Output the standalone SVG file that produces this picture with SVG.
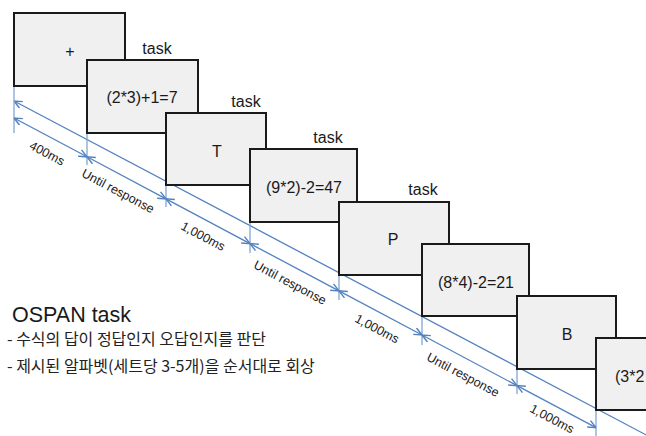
<svg xmlns="http://www.w3.org/2000/svg" width="646" height="436" viewBox="0 0 646 436">
<style>
.box{fill:#f0f0f0;stroke:#1a1a1a;stroke-width:2}
.lbl{font-family:"Liberation Sans",Arial,sans-serif;font-size:16px;fill:#1a1a1a;text-anchor:middle}
.task{font-family:"Liberation Sans",Arial,sans-serif;font-size:16px;fill:#1a1a1a;text-anchor:middle}
.dur{font-family:"Liberation Sans",Arial,sans-serif;font-size:12.5px;fill:#1a1a1a;text-anchor:middle}
.ln{stroke:#5382bf;stroke-width:1.3;fill:none}
.tick{stroke:#7fa6d6;stroke-width:1.3;fill:none}
.seg{stroke:#5382bf;stroke-width:1.3;fill:none;marker-start:url(#ah);marker-end:url(#ah)}
.kr{font-family:"Noto Sans CJK KR",sans-serif;font-size:16px;fill:#222}
</style>
<defs>
<marker id="ah" viewBox="0 0 10 10" refX="10" refY="5" markerWidth="9" markerHeight="9" markerUnits="userSpaceOnUse" orient="auto-start-reverse">
<path d="M1,1 L10,5 L1,9" fill="none" stroke="#5382bf" stroke-width="1.6"/>
</marker>
</defs>
<rect width="646" height="436" fill="#ffffff"/>
<g id="connectors">
<line class="ln" x1="14" y1="101" x2="650" y2="437" marker-start="url(#ah)"/>
<line class="tick" x1="14" y1="86" x2="14" y2="133"/>
<line class="tick" x1="87" y1="133" x2="87" y2="165"/>
<line class="tick" x1="166" y1="185" x2="166" y2="207"/>
<line class="tick" x1="250" y1="222" x2="250" y2="253"/>
<line class="tick" x1="339" y1="275" x2="339" y2="300"/>
<line class="tick" x1="422" y1="316" x2="422" y2="345"/>
<line class="tick" x1="517" y1="369" x2="517" y2="394"/>
<line class="tick" x1="596" y1="410" x2="596" y2="436"/>
<line class="seg" x1="14" y1="118" x2="87" y2="156.8"/>
<line class="seg" x1="87" y1="156.8" x2="166" y2="198.9"/>
<line class="seg" x1="166" y1="198.9" x2="250" y2="243.6"/>
<line class="seg" x1="250" y1="243.6" x2="339" y2="290.9"/>
<line class="seg" x1="339" y1="290.9" x2="422" y2="335"/>
<line class="seg" x1="422" y1="335" x2="517" y2="385.6"/>
<line class="seg" x1="517" y1="385.6" x2="596" y2="427.6"/>
<text class="dur" transform="translate(47,153.6) rotate(28)" x="0" y="4">400ms</text>
<text class="dur" transform="translate(118,191.3) rotate(28)" x="0" y="4">Until response</text>
<text class="dur" transform="translate(203,236.5) rotate(28)" x="0" y="4">1,000ms</text>
<text class="dur" transform="translate(290,282.8) rotate(28)" x="0" y="4">Until response</text>
<text class="dur" transform="translate(377,329) rotate(28)" x="0" y="4">1,000ms</text>
<text class="dur" transform="translate(463,375) rotate(28)" x="0" y="4">Until response</text>
<text class="dur" transform="translate(552,419) rotate(28)" x="0" y="4">1,000ms</text>
</g>
<g id="box1"><rect class="box" x="14" y="13" width="111" height="73"/><text class="lbl" x="70" y="57">+</text></g>
<g id="box2"><rect class="box" x="87" y="60" width="111" height="73"/><text class="lbl" x="142" y="103">(2*3)+1=7</text><text class="task" x="157" y="54">task</text></g>
<g id="box3"><rect class="box" x="166" y="113" width="100" height="72"/><text class="lbl" x="217" y="157">T</text><text class="task" x="246" y="107">task</text></g>
<g id="box4"><rect class="box" x="250" y="149" width="107" height="73"/><text class="lbl" x="304" y="193">(9*2)-2=47</text><text class="task" x="328" y="143">task</text></g>
<g id="box5"><rect class="box" x="339" y="202" width="110" height="73"/><text class="lbl" x="393" y="245">P</text><text class="task" x="423" y="195">task</text></g>
<g id="box6"><rect class="box" x="422" y="244" width="107" height="72"/><text class="lbl" x="476" y="288">(8*4)-2=21</text></g>
<g id="box7"><rect class="box" x="517" y="296" width="99" height="73"/><text class="lbl" x="567" y="340">B</text></g>
<g id="box8"><rect class="box" x="596" y="338" width="110" height="72"/><text class="lbl" x="615" y="382" style="text-anchor:start">(3*2</text></g>
<g id="caption">
<text x="12" y="322" style="font-family:'Liberation Sans',Arial,sans-serif;font-size:21.5px;fill:#1a1a1a">OSPAN task</text>
<text class="kr" x="7" y="345">- 수식의 답이 정답인지 오답인지를 판단</text>
<text class="kr" x="7" y="372">- 제시된 알파벳(세트당 3-5개)을 순서대로 회상</text>
</g>
</svg>
